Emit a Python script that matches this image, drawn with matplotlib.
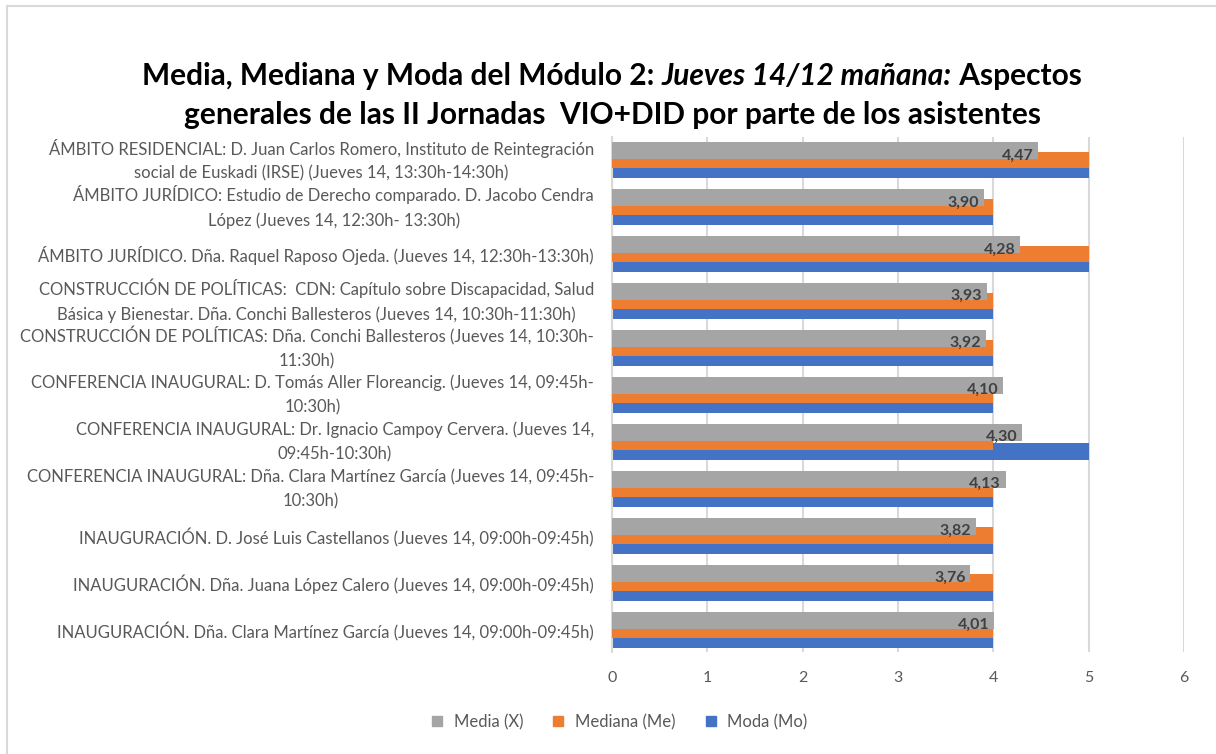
import matplotlib
matplotlib.use('Agg')
from matplotlib import pyplot as plt
from matplotlib.lines import Line2D
import numpy as np

plt.rcParams['font.family'] = ['Lato', 'DejaVu Sans']

# categories listed bottom -> top
categories = [
    "INAUGURACIÓN. Dña. Clara Martínez García (Jueves 14, 09:00h-09:45h)",
    "INAUGURACIÓN. Dña. Juana López Calero (Jueves 14, 09:00h-09:45h)",
    "INAUGURACIÓN. D. José Luis Castellanos (Jueves 14, 09:00h-09:45h)",
    "CONFERENCIA INAUGURAL: Dña. Clara Martínez García (Jueves 14, 09:45h-\n10:30h)",
    "CONFERENCIA INAUGURAL: Dr. Ignacio Campoy Cervera. (Jueves 14,\n09:45h-10:30h)",
    "CONFERENCIA INAUGURAL: D. Tomás Aller Floreancig. (Jueves 14, 09:45h-\n10:30h)",
    "CONSTRUCCIÓN DE POLÍTICAS: Dña. Conchi Ballesteros (Jueves 14, 10:30h-\n11:30h)",
    "CONSTRUCCIÓN DE POLÍTICAS:  CDN: Capítulo sobre Discapacidad, Salud\nBásica y Bienestar. Dña. Conchi Ballesteros (Jueves 14, 10:30h-11:30h)",
    "ÁMBITO JURÍDICO. Dña. Raquel Raposo Ojeda. (Jueves 14, 12:30h-13:30h)",
    "ÁMBITO JURÍDICO: Estudio de Derecho comparado. D. Jacobo Cendra\nLópez (Jueves 14, 12:30h- 13:30h)",
    "ÁMBITO RESIDENCIAL: D. Juan Carlos Romero, Instituto de Reintegración\nsocial de Euskadi (IRSE) (Jueves 14, 13:30h-14:30h)",
]
media = [4.01, 3.76, 3.82, 4.13, 4.30, 4.10, 3.92, 3.93, 4.28, 3.90, 4.47]
mediana = [4, 4, 4, 4, 4, 4, 4, 4, 5, 4, 5]
moda = [4, 4, 4, 4, 5, 4, 4, 4, 5, 4, 5]
series_names = ['Media (X)', 'Mediana (Me)', 'Moda (Mo)']
xticks = [0, 1, 2, 3, 4, 5, 6]

c_media = '#A5A5A5'
c_mediana = '#ED7D31'
c_moda = '#4472C4'
txt = '#595959'

fig = plt.figure(figsize=(12.16, 7.54), dpi=100)
ax = fig.add_axes([612 / 1216, 1 - 652 / 754, (1184 - 612) / 1216, (652 - 137) / 754])

y = np.arange(len(categories))
h = 0.36
off = 0.2
ax.barh(y - off, moda, height=h, color=c_moda, zorder=2)
ax.barh(y, mediana, height=h, color=c_mediana, zorder=3)
ax.barh(y + off, media, height=h, color=c_media, zorder=4)

for yi, v in zip(y, media):
    ax.text(v - 0.05, yi + 0.1, '{:.2f}'.format(v).replace('.', ','),
            ha='right', va='center', fontsize=11.5, fontweight='bold',
            color='#404040', zorder=5)

ax.set_xlim(0, 6)
ax.set_ylim(-0.47, 10.49)
ax.set_xticks(xticks)
ax.set_xticklabels([str(t) for t in xticks], color=txt, fontsize=11.5)
ax.set_yticks(y)
ax.set_yticklabels(categories, color=txt, fontsize=12, ma='center')
for lab in ax.get_yticklabels():
    if '\n' in lab.get_text():
        lab.set_linespacing(1.6)
        lab.set_va('center')
ax.tick_params(axis='y', length=0, pad=13)
ax.tick_params(axis='x', length=0, pad=14)
ax.grid(axis='x', color='#D9D9D9', linewidth=1.5, zorder=0)
ax.set_axisbelow(True)
for s in ['top', 'right', 'bottom']:
    ax.spines[s].set_visible(False)
ax.spines['left'].set_color('#D9D9D9')
ax.spines['left'].set_linewidth(1.5)

# legend
handles = [Line2D([], [], marker='s', linestyle='none', markersize=7.5, color=c)
           for c in [c_media, c_mediana, c_moda]]
fig.legend(handles, series_names, loc='center', bbox_to_anchor=(614 / 1216, 1 - 722 / 754),
           ncol=3, frameon=False, fontsize=12, labelcolor=txt,
           handletextpad=0.0, columnspacing=1.1)

# title, first line in three pieces (middle one italic)
fig.canvas.draw()
r = fig.canvas.get_renderer()
parts = [('Media, Mediana y Moda del Módulo 2: ', 'normal'),
         ('Jueves 14/12 mañana:', 'italic'),
         (' Aspectos', 'normal')]
y1 = 1 - 76 / 754
objs = []
for s, st in parts:
    t = fig.text(0, y1, s, fontsize=21.5, fontweight='bold', style=st,
                 ha='left', va='center', color='black')
    objs.append(t)
widths = [t.get_window_extent(renderer=r).width for t in objs]
x = 612 - sum(widths) / 2
for t, w in zip(objs, widths):
    t.set_x(x / 1216)
    x += w
fig.text(612 / 1216, 1 - 115 / 754,
         'generales de las II Jornadas  VIO+DID por parte de los asistentes',
         fontsize=21.5, fontweight='bold', ha='center', va='center', color='black')

# chart border
fig.add_artist(Line2D([7 / 1216, 7 / 1216], [0, 1 - 6 / 754], color='#D9D9D9', linewidth=1.5))
fig.add_artist(Line2D([7 / 1216, 1], [1 - 6 / 754, 1 - 6 / 754], color='#D9D9D9', linewidth=1.5))

fig.savefig('out.png', dpi=100)
